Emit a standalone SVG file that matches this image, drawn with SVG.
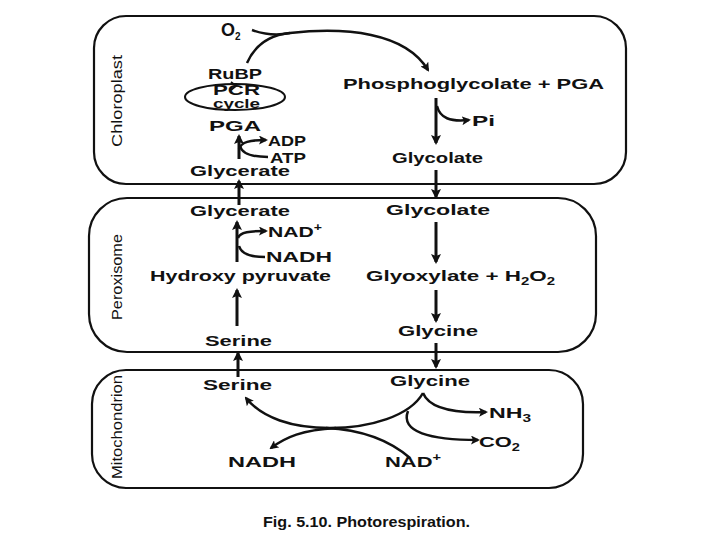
<svg xmlns="http://www.w3.org/2000/svg" width="720" height="540" viewBox="0 0 720 540">
<defs>
<marker id="ah" markerWidth="10" markerHeight="10" refX="8" refY="5" orient="auto" markerUnits="userSpaceOnUse">
<path d="M0,0 L10,5 L0,10 L2,5 Z" fill="#111"/>
</marker>
<marker id="ahs" markerWidth="9" markerHeight="9" refX="7" refY="4.5" orient="auto" markerUnits="userSpaceOnUse">
<path d="M0,0 L9,4.5 L0,9 L2,4.5 Z" fill="#111"/>
</marker>
</defs>
<style>
text{font-family:"Liberation Sans",Arial,sans-serif;font-weight:bold;fill:#111;font-size:15px}
text.lbl{font-weight:normal;font-size:15px}
text.o2{font-size:18px}
text.pcr{font-size:14px}
text.cyc{font-size:12px}
.box{fill:none;stroke:#111;stroke-width:2.2}
.ar{fill:none;stroke:#111;stroke-width:3;marker-end:url(#ah)}
.cv{fill:none;stroke:#111;stroke-width:2.5}
.cva{fill:none;stroke:#111;stroke-width:2.5;marker-end:url(#ahs)}
tspan.sub{font-size:10px}
</style>
<rect width="720" height="540" fill="#fff"/>

<g id="chloroplast">
<rect class="box" x="94" y="16" width="532" height="168" rx="32" ry="32"/>
<text class="lbl" transform="translate(122,101) rotate(-90)" text-anchor="middle" textLength="92" lengthAdjust="spacingAndGlyphs">Chloroplast</text>
</g>
<g id="peroxisome">
<rect class="box" x="89" y="198" width="507" height="154" rx="38" ry="38"/>
<text class="lbl" transform="translate(122,277) rotate(-90)" text-anchor="middle" textLength="86" lengthAdjust="spacingAndGlyphs">Peroxisome</text>
</g>
<g id="mitochondrion">
<rect class="box" x="92" y="370" width="491" height="118" rx="34" ry="34"/>
<text class="lbl" transform="translate(122,427) rotate(-90)" text-anchor="middle" textLength="104" lengthAdjust="spacingAndGlyphs">Mitochondrion</text>
</g>

<g id="o2"><text class="o2" x="221" y="36">O<tspan class="sub" dy="4">2</tspan></text></g>
<g id="rubp"><text x="208" y="79" textLength="54" lengthAdjust="spacingAndGlyphs">RuBP</text></g>
<g id="pcr">
<ellipse cx="235" cy="97" rx="50" ry="13" fill="none" stroke="#111" stroke-width="2"/>
<path d="M231,82 L236,86 L231,90" fill="none" stroke="#111" stroke-width="1.8"/>
<text class="pcr" x="213" y="95" textLength="47" lengthAdjust="spacingAndGlyphs">PCR</text>
<text class="cyc" x="213" y="108" textLength="47" lengthAdjust="spacingAndGlyphs">cycle</text>
</g>
<g id="pga"><text x="209" y="131" textLength="52" lengthAdjust="spacingAndGlyphs">PGA</text></g>
<g id="adp"><text x="268" y="146" textLength="38" lengthAdjust="spacingAndGlyphs">ADP</text></g>
<g id="atp"><text x="270" y="163" textLength="36" lengthAdjust="spacingAndGlyphs">ATP</text></g>
<g id="glycerate-c"><text x="190" y="176" textLength="100" lengthAdjust="spacingAndGlyphs">Glycerate</text></g>
<g id="phosphoglycolate"><text x="343" y="89" textLength="261" lengthAdjust="spacingAndGlyphs">Phosphoglycolate + PGA</text></g>
<g id="pi"><text x="472" y="126" textLength="23" lengthAdjust="spacingAndGlyphs">Pi</text></g>
<g id="glycolate-c"><text x="392" y="163" textLength="91" lengthAdjust="spacingAndGlyphs">Glycolate</text></g>

<g id="glycerate-p"><text x="190" y="216" textLength="100" lengthAdjust="spacingAndGlyphs">Glycerate</text></g>
<g id="nadp-p"><text x="268" y="237" textLength="54" lengthAdjust="spacingAndGlyphs">NAD<tspan class="sub" dy="-6">+</tspan></text></g>
<g id="nadh-p"><text x="266" y="262" textLength="66" lengthAdjust="spacingAndGlyphs">NADH</text></g>
<g id="hydroxypyruvate"><text x="150" y="281" textLength="181" lengthAdjust="spacingAndGlyphs">Hydroxy pyruvate</text></g>
<g id="serine-p"><text x="205" y="346" textLength="67" lengthAdjust="spacingAndGlyphs">Serine</text></g>
<g id="glycolate-p"><text x="386" y="215" textLength="104" lengthAdjust="spacingAndGlyphs">Glycolate</text></g>
<g id="glyoxylate"><text x="366" y="281" textLength="189" lengthAdjust="spacingAndGlyphs">Glyoxylate + H<tspan class="sub" dy="4">2</tspan><tspan dy="-4">O</tspan><tspan class="sub" dy="4">2</tspan></text></g>
<g id="glycine-p"><text x="398" y="336" textLength="80" lengthAdjust="spacingAndGlyphs">Glycine</text></g>

<g id="serine-m"><text x="203" y="390" textLength="69" lengthAdjust="spacingAndGlyphs">Serine</text></g>
<g id="glycine-m"><text x="390" y="386" textLength="80" lengthAdjust="spacingAndGlyphs">Glycine</text></g>
<g id="nh3"><text x="489" y="418" textLength="42" lengthAdjust="spacingAndGlyphs">NH<tspan class="sub" dy="4">3</tspan></text></g>
<g id="co2"><text x="479" y="447" textLength="41" lengthAdjust="spacingAndGlyphs">CO<tspan class="sub" dy="4">2</tspan></text></g>
<g id="nadh-m"><text x="228" y="467" textLength="68" lengthAdjust="spacingAndGlyphs">NADH</text></g>
<g id="nadp-m"><text x="385" y="467" textLength="56" lengthAdjust="spacingAndGlyphs">NAD<tspan class="sub" dy="-6">+</tspan></text></g>

<g id="caption"><text x="263" y="527" textLength="207" lengthAdjust="spacingAndGlyphs">Fig. 5.10. Photorespiration.</text></g>

<g id="connectors">
<path class="cv" d="M252,30 C263,34 276,36 290,33"/>
<path class="cva" d="M247,63 C255,45 270,35 290,33 C345,27 405,32 428,70"/>
<path class="ar" d="M436,98 V143"/>
<path class="cva" d="M437,106 C440,118 450,122 469,120"/>
<path class="ar" d="M436,170 V197"/>
<path class="ar" d="M239,159 V136"/>
<path class="cva" d="M239,149 C241,142 250,140 266,140"/>
<path class="cv" d="M268,157 C252,157 242,154 240,146"/>
<path class="ar" d="M239,205 V181"/>
<path class="ar" d="M237,262 V222"/>
<path class="cva" d="M238,238 C240,232 250,231 266,231"/>
<path class="cv" d="M265,257 C250,257 241,254 239,246"/>
<path class="ar" d="M237,326 V290"/>
<path class="ar" d="M436,222 V262"/>
<path class="ar" d="M436,290 V321"/>
<path class="ar" d="M436,343 V367"/>
<path class="ar" d="M238,377 V353"/>
<path class="cva" d="M423,393 C410,416 370,428 330,428 C292,428 262,418 246,398"/>
<path class="cva" d="M336,428 C302,430 286,437 271,448"/>
<path class="cv" d="M326,428 C368,430 395,445 410,458"/>
<path class="cva" d="M423,393 C430,410 460,413 486,412"/>
<path class="cva" d="M408,411 C400,432 430,440 478,440"/>
</g>
</svg>
